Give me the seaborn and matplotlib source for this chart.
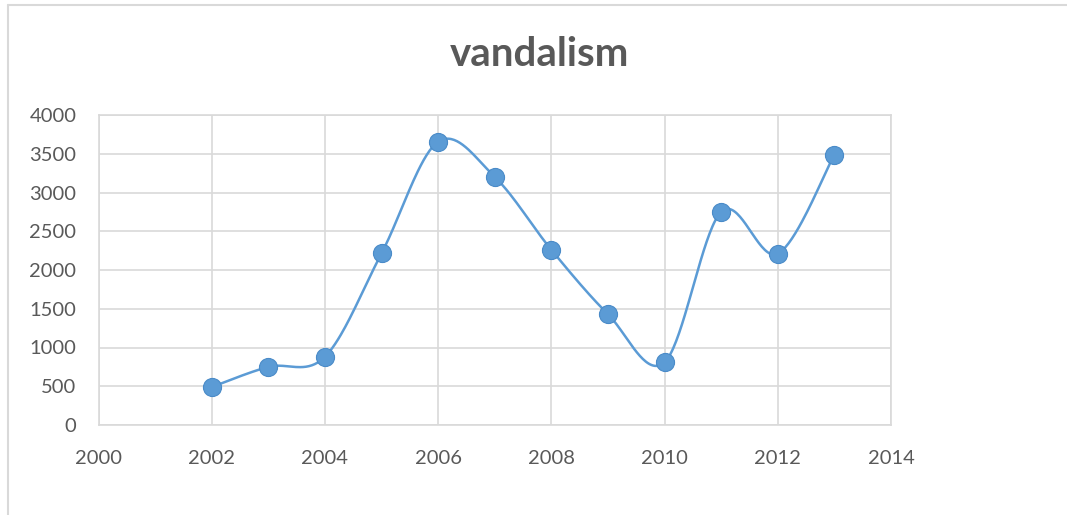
import numpy as np
import pandas as pd
import matplotlib
matplotlib.use("Agg")
import matplotlib.pyplot as plt
import seaborn as sns
from matplotlib.lines import Line2D

years = [2002, 2003, 2004, 2005, 2006, 2007, 2008, 2009, 2010, 2011, 2012, 2013]
vandalism = [490, 750, 880, 2215, 3655, 3200, 2260, 1430, 810, 2750, 2210, 3490]
title = "vandalism"
x_ticks = [2000, 2002, 2004, 2006, 2008, 2010, 2012, 2014]
y_ticks = [0, 500, 1000, 1500, 2000, 2500, 3000, 3500, 4000]

BLUE = "#5B9BD5"
TEXT = "#595959"
GRID = "#D9D9D9"

sns.set_theme(style="white")
plt.rcParams["font.family"] = ["Lato", "DejaVu Sans"]

df = pd.DataFrame({"year": years, "value": vandalism})


def smooth_curve(x, y, n=40):
    # Excel-style smoothed line (Catmull-Rom Bezier through the data points)
    x = np.asarray(x, float)
    y = np.asarray(y, float)
    px = np.concatenate([[x[0]], x, [x[-1]]])
    py = np.concatenate([[y[0]], y, [y[-1]]])
    xs, ys = [], []
    t = np.linspace(0, 1, n)
    for i in range(1, len(px) - 2):
        p0 = np.array([px[i], py[i]])
        p3 = np.array([px[i + 1], py[i + 1]])
        c1 = p0 + (np.array([px[i + 1], py[i + 1]]) - np.array([px[i - 1], py[i - 1]])) / 6
        c2 = p3 - (np.array([px[i + 2], py[i + 2]]) - np.array([px[i], py[i]])) / 6
        b = ((1 - t) ** 3)[:, None] * p0 + (3 * (1 - t) ** 2 * t)[:, None] * c1 \
            + (3 * (1 - t) * t ** 2)[:, None] * c2 + (t ** 3)[:, None] * p3
        xs.extend(b[:, 0])
        ys.extend(b[:, 1])
    return np.array(xs), np.array(ys)


fig = plt.figure(figsize=(10.67, 5.15), dpi=100)
ax = fig.add_axes([98.5 / 1067, 1 - 425 / 515, (891 - 98.5) / 1067, 310 / 515])

sx, sy = smooth_curve(df["year"], df["value"])
ax.plot(sx, sy, color=BLUE, lw=1.8, zorder=3, solid_capstyle="round")
sns.scatterplot(data=df, x="year", y="value", ax=ax, s=170, color=BLUE,
                edgecolor="#4A8BC8", linewidth=0.8, zorder=4, legend=False)

ax.set_xlim(2000, 2014)
ax.set_ylim(0, 4000)
ax.set_xticks(x_ticks)
ax.set_yticks(y_ticks)
ax.set_xticklabels([str(v) for v in x_ticks])
ax.set_yticklabels([str(v) for v in y_ticks])
ax.grid(True, color=GRID, lw=1.2)
ax.set_axisbelow(True)
for s in ax.spines.values():
    s.set_color(GRID)
    s.set_linewidth(1.2)
ax.tick_params(axis="both", length=0, labelsize=14.5, colors=TEXT)
ax.tick_params(axis="y", pad=16)
ax.tick_params(axis="x", pad=18)
ax.set_xlabel("")
ax.set_ylabel("")

fig.text(539 / 1067, 1 - 66 / 515, title, ha="center", va="baseline",
         fontsize=29, fontweight="bold", color=TEXT)

# chart-area frame (only top and left edges fall inside the image)
fx = 7.5 / 1067
fy = 1 - 5 / 515
fig.add_artist(Line2D([fx, fx], [0, fy], transform=fig.transFigure,
                      color=GRID, lw=1.5))
fig.add_artist(Line2D([fx, 1], [fy, fy], transform=fig.transFigure,
                      color=GRID, lw=1.5))

fig.savefig("out.png", dpi=100, facecolor="white")
